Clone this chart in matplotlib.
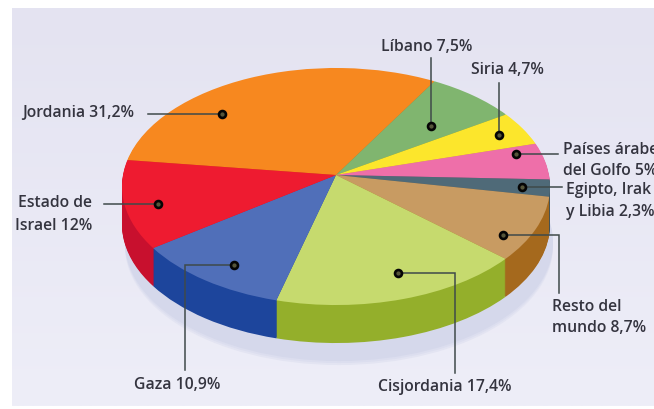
import matplotlib
matplotlib.use("Agg")
import matplotlib.pyplot as plt
import matplotlib.transforms as mtrans
from matplotlib.patches import Circle
import numpy as np

categories = ["Jordania", "Líbano", "Siria", "Países árabes del Golfo", "Egipto, Irak y Libia",
              "Resto del mundo", "Cisjordania", "Gaza", "Estado de Israel"]
values = [31.2, 7.5, 4.7, 5.0, 2.3, 8.7, 17.4, 10.9, 12.0]
top_colors = ["#F7881F", "#80B56F", "#FCE62C", "#EE6FA9", "#4F6A78",
              "#C89B62", "#C6DA6E", "#506FB9", "#EE1B30"]
side_colors = ["#C96A10", "#5E8A50", "#C9B520", "#B8507F", "#37505C",
               "#A5691D", "#94AF2B", "#1D459C", "#C8102E"]

W, H = 654, 409
APEX = (336, 175)
RX, A, K = 213.0, 117.4, 0.0971
DEPTH = 38


class Persp(mtrans.Transform):
    input_dims = output_dims = 2
    is_separable = False

    def transform_non_affine(self, xy):
        xy = np.asarray(xy, float)
        d = 1 + K * xy[:, 1]
        return np.column_stack((APEX[0] + RX * xy[:, 0] / d, APEX[1] - A * xy[:, 1] / d))

    def inverted(self):
        raise NotImplementedError


fig = plt.figure(figsize=(W / 100, H / 100), dpi=100, facecolor="white")
ax = fig.add_axes([0, 0, 1, 1])

base = Persp()
shadows = []
for off, col in zip((60, 58, 56), ("#E3E4F2", "#DCDEEF", "#D5D8EB")):
    c = Circle((0, 0), 1, fc=col, ec="none", zorder=1)
    ax.add_patch(c)
    shadows.append((c, off))

for step in range(DEPTH, 0, -1):
    wedges, _ = ax.pie(values, colors=side_colors, startangle=172.6, counterclock=False, radius=1,
                       wedgeprops=dict(linewidth=0, zorder=2))
    for w in wedges:
        w.set_transform(base + mtrans.Affine2D().translate(0, step) + ax.transData)
top, _ = ax.pie(values, colors=top_colors, startangle=172.6, counterclock=False, radius=1,
                wedgeprops=dict(linewidth=0, zorder=3))
for w in top:
    w.set_transform(base + ax.transData)
for c, off in shadows:
    c.set_transform(base + mtrans.Affine2D().translate(3, off) + ax.transData)

# paper background, slightly paler toward the bottom
grad = np.linspace(0, 1, 256)[:, None, None]
bg = (1 - grad) * np.array([228, 227, 241]) / 255 + grad * np.array([238, 238, 248]) / 255
ax.imshow(bg, extent=(12, W, 406, 8), aspect="auto", zorder=0, interpolation="bilinear")

ax.set_aspect("auto")
ax.set_xlim(0, W)
ax.set_ylim(H, 0)
ax.axis("off")

leaders = [
    ([222, 148], [114, 114]),
    ([431, 431], [126, 58]),
    ([499, 499], [135, 83]),
    ([516, 558], [154, 154]),
    ([522, 562], [187, 187]),
    ([503, 559, 559], [235, 235, 293]),
    ([398, 455, 455], [273, 273, 373]),
    ([234, 185, 185], [265, 265, 370]),
    ([158, 104], [204, 204]),
]
for xs, ys in leaders:
    ax.plot(xs, ys, color="#3F4A4A", lw=1.1, zorder=4, solid_joinstyle="miter")
    ax.plot(xs[0], ys[0], "o", ms=5, mfc="#55553A", mec="#050505", mew=1.9, zorder=5)

labels = [
    ("Jordania 31,2%", 22, 113, "left"),
    ("Líbano 7,5%", 427, 47, "center"),
    ("Siria 4,7%", 507, 70, "center"),
    ("Países árabes", 563, 150, "left"),
    ("del Golfo 5%", 563, 171, "left"),
    ("Egipto, Irak", 566, 190, "left"),
    ("y Libia 2,3%", 566, 212, "left"),
    ("Resto del", 552, 307, "left"),
    ("mundo 8,7%", 552, 328, "left"),
    ("Cisjordania 17,4%", 445, 387, "center"),
    ("Gaza 10,9%", 177, 385, "center"),
    ("Estado de", 92, 203, "right"),
    ("Israel 12%", 92, 226, "right"),
]
for s, x, y, ha in labels:
    ax.text(x, y, s, ha=ha, va="center", fontsize=11.3, family="Open Sans", weight="semibold",
            color="#34343F", zorder=6)

fig.savefig("out.png", dpi=100, facecolor="white")
